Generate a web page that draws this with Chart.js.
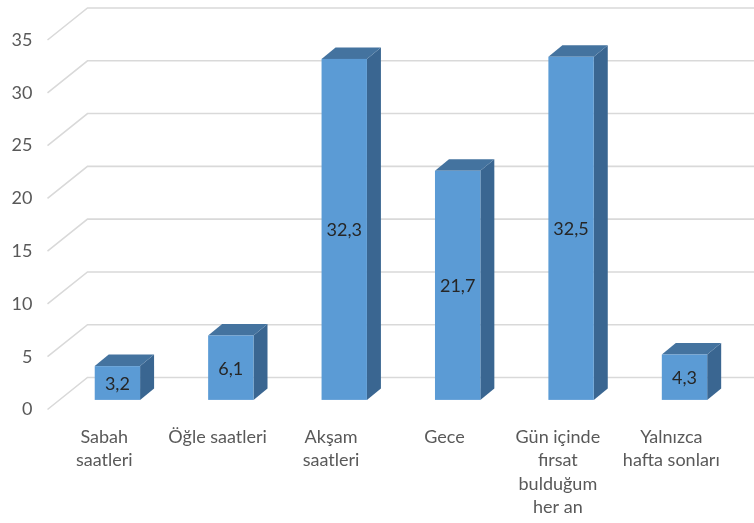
<!DOCTYPE html>
<html>
<head>
<meta charset="utf-8">
<script src="https://cdn.jsdelivr.net/npm/chart.js@4/dist/chart.umd.min.js"></script>
<style>
  html, body { margin: 0; padding: 0; background: #fff; }
  #wrap { width: 754px; height: 523px; }
</style>
</head>
<body>
<div id="wrap"><canvas id="chart"></canvas></div>
<script>
// chart data
const categories = [
    ["Sabah", "saatleri"],
    ["Öğle saatleri"],
    ["Akşam", "saatleri"],
    ["Gece"],
    ["Gün içinde", "fırsat", "bulduğum", "her an"],
    ["Yalnızca", "hafta sonları"]
];
const values = [3.2, 6.1, 32.3, 21.7, 32.5, 4.3];
const yMax = 35;
const yStep = 5;

const FONT = "Lato";

// 3D look: depth of the back wall relative to the front plane
const DEPTH = { x: 40, y: -32 };

const wallPlugin = {
    id: "wall",
    beforeDatasetsDraw(chart) {
        const { ctx, chartArea, scales } = chart;
        const y = scales.y;
        ctx.save();
        ctx.strokeStyle = "#d9d9d9";
        ctx.lineWidth = 1.6;
        y.ticks.forEach(t => {
            const py = y.getPixelForValue(t.value);
            ctx.beginPath();
            ctx.moveTo(chartArea.left, py);
            ctx.lineTo(chartArea.left + DEPTH.x, py + DEPTH.y);
            ctx.lineTo(chart.width, py + DEPTH.y);
            ctx.stroke();
        });
        ctx.restore();
    }
};

const boxPlugin = {
    id: "boxes",
    afterDatasetsDraw(chart) {
        const ctx = chart.ctx;
        const meta = chart.getDatasetMeta(0);
        const ox = DEPTH.x * 0.33, oy = DEPTH.y * 0.3;
        const dx = DEPTH.x * 0.35, dy = DEPTH.y * 0.36;
        ctx.save();
        meta.data.forEach((bar, i) => {
            const p = bar.getProps(["x", "y", "base", "width"], true);
            const l = p.x - p.width / 2 + ox, r = p.x + p.width / 2 + ox;
            const t = p.y + oy, b = p.base + oy;
            // side
            ctx.fillStyle = "#3a6691";
            ctx.beginPath();
            ctx.moveTo(r, b); ctx.lineTo(r, t); ctx.lineTo(r + dx, t + dy); ctx.lineTo(r + dx, b + dy);
            ctx.closePath(); ctx.fill();
            // top
            ctx.fillStyle = "#44739f";
            ctx.beginPath();
            ctx.moveTo(l, t); ctx.lineTo(r, t); ctx.lineTo(r + dx, t + dy); ctx.lineTo(l + dx, t + dy);
            ctx.closePath(); ctx.fill();
            // front
            ctx.fillStyle = "#5b9bd5";
            ctx.fillRect(l, t, r - l, b - t);
            // value label
            ctx.fillStyle = "#262626";
            ctx.font = "18px " + FONT;
            ctx.textAlign = "center";
            ctx.textBaseline = "middle";
            ctx.fillText(String(values[i]).replace(".", ","), (l + r) / 2, (t + b) / 2 + 1);
        });
        ctx.restore();
    }
};

new Chart(document.getElementById("chart"), {
    type: "bar",
    data: {
        labels: categories,
        datasets: [{
            data: values,
            backgroundColor: "rgba(0,0,0,0)",
            barPercentage: 0.4,
            categoryPercentage: 1
        }]
    },
    options: {
        responsive: true,
        maintainAspectRatio: false,
        animation: false,
        layout: { padding: { top: 40, right: 26, left: 0, bottom: 0 } },
        plugins: { legend: { display: false }, tooltip: { enabled: false } },
        scales: {
            x: {
                grid: { display: false, drawTicks: false },
                border: { display: false },
                ticks: {
                    color: "#595959",
                    font: { family: FONT, size: 18, lineHeight: 1.3 },
                    padding: 16,
                    maxRotation: 0,
                    autoSkip: false
                },
                afterFit(scale) { scale.height = 113.5; }
            },
            y: {
                min: 0,
                max: yMax,
                ticks: {
                    stepSize: yStep,
                    color: "#595959",
                    font: { family: FONT, size: 18 },
                    padding: 15
                },
                grid: { display: false, drawTicks: false },
                border: { display: false },
                afterFit(scale) { scale.width = 47.5; }
            }
        }
    },
    plugins: [wallPlugin, boxPlugin]
});
</script>
</body>
</html>
